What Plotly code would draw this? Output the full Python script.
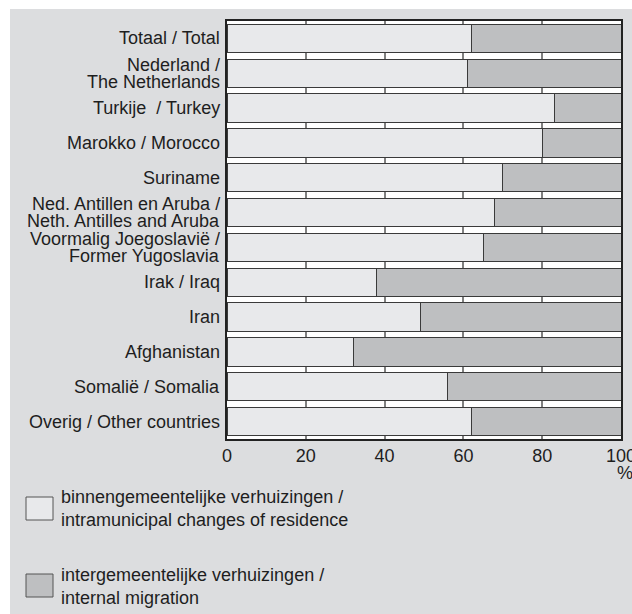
import plotly.graph_objects as go

# Share of moves within the municipality vs. between municipalities, by country of origin (%)
categories = [
    "Totaal / Total",
    "Nederland /<br>The Netherlands",
    "Turkije  / Turkey",
    "Marokko / Morocco",
    "Suriname",
    "Ned. Antillen en Aruba /<br>Neth. Antilles and Aruba",
    "Voormalig Joegoslavië /<br>Former Yugoslavia",
    "Irak / Iraq",
    "Iran",
    "Afghanistan",
    "Somalië / Somalia",
    "Overig / Other countries",
]
intramunicipal = [62, 61, 83, 80, 70, 68, 65, 38, 49, 32, 56, 62]
internal_migration = [100 - v for v in intramunicipal]

x_ticks = [0, 20, 40, 60, 80, 100]

legend_labels = [
    "binnengemeentelijke verhuizingen /<br>intramunicipal changes of residence",
    "intergemeentelijke verhuizingen /<br>internal migration",
]

W, H = 632, 614
ML, MR, MT, MB = 227, 11, 21, 175
PW, PH = W - ML - MR, H - MT - MB

LIGHT = "#e8e9eb"
DARK = "#bebfc1"
PANEL = "#dcdddf"
EDGE = "#3a3a3a"
TXT = "#1e1e1e"
FONT = "Liberation Sans, Arial, sans-serif"
FS = 18


def px_x(px):
    return (px - ML) / PW


def px_y(py):
    return (H - MB - py) / PH


fig = go.Figure()
fig.add_trace(go.Bar(
    y=categories, x=intramunicipal, orientation="h",
    marker=dict(color=LIGHT, line=dict(color=EDGE, width=1)),
    name=legend_labels[0], showlegend=False,
))
fig.add_trace(go.Bar(
    y=categories, x=internal_migration, orientation="h",
    marker=dict(color=DARK, line=dict(color=EDGE, width=1)),
    name=legend_labels[1], showlegend=False,
))

annotations = []
# category labels, one annotation per line for tight line spacing
for cat in categories:
    lines = cat.split("<br>")
    shifts = [0] if len(lines) == 1 else [8.5, -8.5]
    for line, sh in zip(lines, shifts):
        annotations.append(dict(
            x=0, xref="paper", y=cat, yref="y", text=line,
            xanchor="right", yanchor="middle", xshift=-5, yshift=sh,
            showarrow=False, font=dict(size=FS, color=TXT, family=FONT),
        ))

annotations.append(dict(
    x=px_x(625), xref="paper", y=px_y(473), yref="paper", text="%",
    xanchor="center", yanchor="middle", showarrow=False,
    font=dict(size=FS, color=TXT, family=FONT),
))

shapes = [
    # white margin strips around the grey panel
    dict(type="rect", xref="paper", yref="paper", x0=px_x(0), x1=px_x(W),
         y0=px_y(9), y1=px_y(0), fillcolor="white", line=dict(width=0), layer="below"),
    dict(type="rect", xref="paper", yref="paper", x0=px_x(0), x1=px_x(10),
         y0=px_y(H), y1=px_y(0), fillcolor="white", line=dict(width=0), layer="below"),
]

legend_rows = [(LIGHT, 497, 520, 508), (DARK, 574, 597, 586)]
for (col, top, bot, ty), label in zip(legend_rows, legend_labels):
    shapes.append(dict(
        type="rect", xref="paper", yref="paper",
        x0=px_x(26), x1=px_x(53), y0=px_y(bot), y1=px_y(top),
        fillcolor=col, line=dict(color="#555555", width=1),
    ))
    annotations.append(dict(
        x=px_x(59), xref="paper", y=px_y(ty), yref="paper", text=label,
        xanchor="left", yanchor="middle", align="left", showarrow=False,
        font=dict(size=FS, color=TXT, family=FONT),
    ))

fig.update_layout(
    width=W, height=H,
    margin=dict(l=ML, r=MR, t=MT, b=MB, pad=0, autoexpand=False),
    barmode="stack", bargap=0.19,
    paper_bgcolor=PANEL, plot_bgcolor="white",
    font=dict(family=FONT, size=FS, color=TXT),
    shapes=shapes, annotations=annotations,
    xaxis=dict(
        range=[0, 100], tickvals=x_ticks, ticktext=[str(v) for v in x_ticks],
        showgrid=True, gridcolor="#808080", gridwidth=1.5, zeroline=False,
        showline=True, linecolor="#222222", linewidth=1.5, mirror=True,
        ticks="", ticklabeloverflow="allow", automargin=False,
        tickfont=dict(size=FS, color=TXT, family=FONT), fixedrange=True,
    ),
    yaxis=dict(
        categoryorder="array", categoryarray=categories, autorange="reversed",
        showticklabels=False, ticks="", showgrid=False, zeroline=False,
        showline=True, linecolor="#222222", linewidth=1.5, mirror=True,
        fixedrange=True, automargin=False,
    ),
)

fig.write_html("out.html")
